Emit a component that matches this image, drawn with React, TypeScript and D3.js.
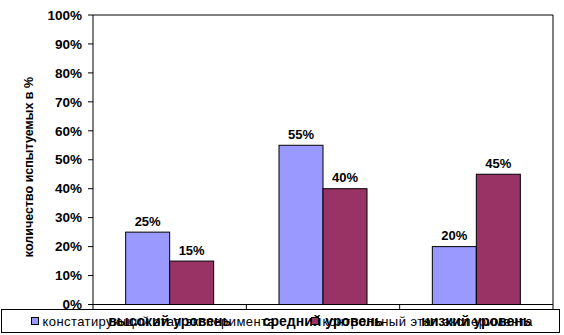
import React from "react";
import * as d3 from "d3";

const categories = ["высокий уровень", "средний уровень", "низкий уровень"];
const seriesNames = ["констатирующий этап эксперимента", "контрольный этап эксперимента"];
const seriesA = [25, 55, 20];
const seriesB = [15, 40, 45];
const yTicks = [0, 10, 20, 30, 40, 50, 60, 70, 80, 90, 100];
const colors = ["#9999FF", "#993366"];

export default function App() {
  const W = 564, H = 335;
  const left = 93, right = 553, top = 15, bottom = 304.5;
  const x0 = d3.scaleBand<string>().domain(categories).range([left, right]).padding(0);
  const bandW = x0.bandwidth();
  const barW = 44;
  const x1 = d3.scaleBand<number>().domain([0, 1]).range([0, barW * 2]).padding(0);
  const y = d3.scaleLinear().domain([0, 100]).range([bottom, top]);
  const series = [seriesA, seriesB];
  const font = "'Liberation Sans', Arial, sans-serif";

  return (
    <svg width={W} height={H} style={{ position: "absolute", left: 0, top: 0, background: "#fff" }}>
      <rect x={0} y={0} width={W} height={H} fill="#fff" />
      <path d={`M${left},${top}H${right}V${bottom}`} fill="none" stroke="#000" strokeWidth={1} />
      {categories.map((c, i) => {
        const gx = (x0(c) as number) + (bandW - barW * 2) / 2;
        return series.map((s, si) => (
          <g key={c + si}>
            <rect
              x={gx + (x1(si) as number)}
              y={y(s[i])}
              width={x1.bandwidth()}
              height={bottom - y(s[i])}
              fill={colors[si]}
              stroke="#000"
              strokeWidth={1}
            />
            <text
              x={gx + (x1(si) as number) + x1.bandwidth() / 2}
              y={y(s[i]) - 6.5}
              textAnchor="middle"
              fontFamily={font}
              fontWeight="bold"
              fontSize={13}
              fill="#000"
            >
              {s[i]}%
            </text>
          </g>
        ));
      })}
      <line x1={left} x2={left} y1={top} y2={bottom} stroke="#000" />
      {yTicks.map((t) => (
        <g key={t}>
          <line x1={left - 5} x2={left} y1={y(t)} y2={y(t)} stroke="#000" />
          <text
            x={left - 11}
            y={y(t)}
            dy="0.35em"
            textAnchor="end"
            fontFamily={font}
            fontWeight="bold"
            fontSize={13.5}
            fill="#000"
          >
            {t}%
          </text>
        </g>
      ))}
      <line x1={left} x2={right} y1={bottom} y2={bottom} stroke="#000" />
      {[...categories.map((c) => x0(c) as number), right].map((tx, i) => (
        <line key={i} x1={tx} x2={tx} y1={bottom} y2={bottom + 5} stroke="#000" />
      ))}
      {categories.map((c) => (
        <text
          key={c}
          x={(x0(c) as number) + bandW / 2}
          y={321.5}
          dy="0.35em"
          textAnchor="middle"
          fontFamily={font}
          fontWeight="bold"
          fontSize={14}
          fill="#000"
        >
          {c}
        </text>
      ))}
      <text
        transform={`translate(33,167) rotate(-90)`}
        textAnchor="middle"
        fontFamily={font}
        fontWeight="bold"
        fontSize={12.5}
        fill="#000"
      >
        количество испытуемых в %
      </text>
      <rect x={1.5} y={309.5} width={558} height={23} fill="none" stroke="#000" strokeWidth={1} />
      {seriesNames.map((n, i) => {
        const lx = [31.5, 311.5][i];
        const tl = [232, 210][i];
        return (
          <g key={n}>
            <rect x={lx} y={317.5} width={7} height={7} fill={colors[i]} stroke="#000" strokeWidth={1} />
            <text
              x={lx + 11}
              y={321.5}
              dy="0.35em"
              fontFamily={font}
              fontSize={13}
              textLength={tl}
              lengthAdjust="spacing"
              fill="#000"
            >
              {n}
            </text>
          </g>
        );
      })}
    </svg>
  );
}
